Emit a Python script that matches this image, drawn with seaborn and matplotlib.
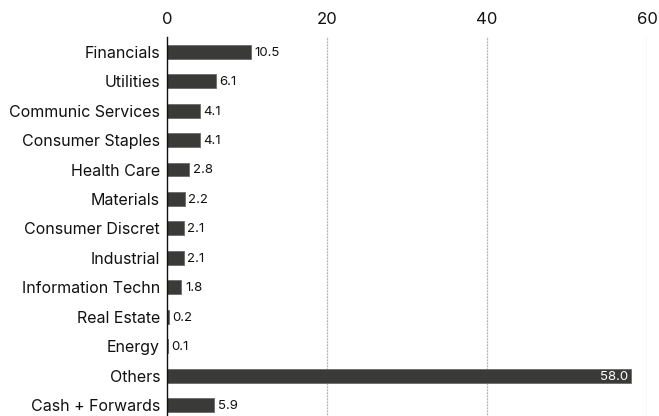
import numpy as np
import pandas as pd
import matplotlib
matplotlib.use('Agg')
import matplotlib.pyplot as plt
import seaborn as sns

# Sector weights
sectors = ['Financials', 'Utilities', 'Communic Services', 'Consumer Staples',
           'Health Care', 'Materials', 'Consumer Discret', 'Industrial',
           'Information Techn', 'Real Estate', 'Energy', 'Others', 'Cash + Forwards']
weights = [10.5, 6.1, 4.1, 4.1, 2.8, 2.2, 2.1, 2.1, 1.8, 0.2, 0.1, 58.0, 5.9]
xticks = [0, 20, 40, 60]

df = pd.DataFrame({'Sector': sectors, 'Weight': weights})

sns.set_style('white')
plt.rcParams['font.family'] = ['Inter', 'DejaVu Sans']

fig = plt.figure(figsize=(6.59, 4.16), dpi=100)
ax = fig.add_axes([167 / 659, 0, (647 - 167) / 659, 1 - 37 / 416])

bar_color = '#3a3a38'
sns.barplot(data=df, x='Weight', y='Sector', orient='h', color=bar_color,
            width=0.47, edgecolor='#6a6a68', linewidth=0.6, ax=ax)

ax.set_xlim(0, 60)
ax.set_ylim(12.37, -0.5)
ax.set_xticks(xticks)
ax.xaxis.tick_top()
ax.tick_params(axis='x', length=0, pad=7, labelsize=12, colors='#111111')
ax.tick_params(axis='y', length=0, pad=5, labelsize=11.5, colors='#111111')
ax.set_xlabel('')
ax.set_ylabel('')

for x in xticks[1:]:
    ax.axvline(x, color='#999999', linestyle=(0, (0.6, 0.6)), linewidth=0.9, zorder=0)

for s in ['top', 'right', 'bottom']:
    ax.spines[s].set_visible(False)
ax.spines['left'].set_color('#111111')
ax.spines['left'].set_linewidth(1.0)

for i, v in enumerate(weights):
    if v > 50:
        ax.text(v - 0.4, i + 0.03, f'{v:.1f}', va='center', ha='right', color='white', fontsize=9.5)
    else:
        ax.text(v + 0.45, i + 0.03, f'{v:.1f}', va='center', ha='left', color='#111111', fontsize=9.5)

fig.savefig('out.png', dpi=100)
